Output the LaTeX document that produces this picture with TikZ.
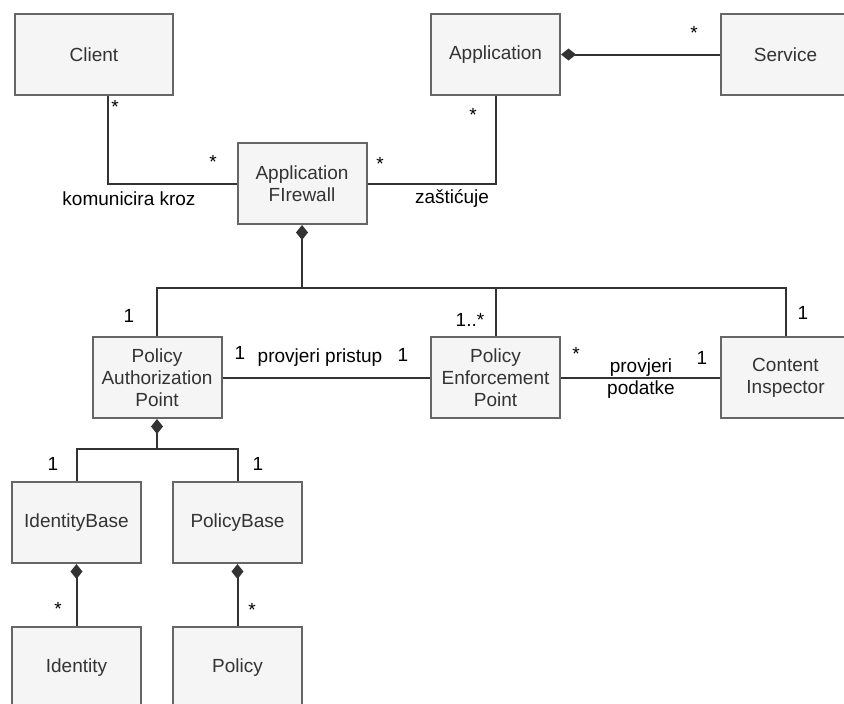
\documentclass[tikz,border=0pt]{standalone}
\usepackage{fontspec}
\setmainfont{Liberation Sans}
\usetikzlibrary{arrows.meta}
\definecolor{boxfill}{HTML}{F5F5F5}
\definecolor{boxline}{HTML}{666666}
\definecolor{boxtext}{HTML}{333333}
\definecolor{edge}{HTML}{333333}

\begin{document}
\begin{tikzpicture}[x=1pt, y=-1pt,
  font=\fontsize{19}{22}\selectfont,
  cls/.style={draw=boxline, fill=boxfill, text=boxtext, line width=2pt,
    minimum width=129pt, minimum height=81pt, align=center, inner sep=2pt},
  assoc/.style={draw=edge, line width=2pt},
  comp/.style={assoc, {Diamond[length=15pt, width=12pt]}-},
  mult/.style={text=black, inner sep=0pt},
  lbl/.style={text=black, inner sep=0pt, align=center}]
  \useasboundingbox (0,0) rectangle (844,704);

  \node[cls, minimum width=158pt] (client) at (94,54.5) {Client};
  \node[cls] (app) at (495.5,54.5) {Application};
  \node[cls] (svc) at (785.5,54.5) {Service};
  \node[cls] (af) at (302,183.5) {Application\\FIrewall};
  \node[cls] (pap) at (157,377.5) {Policy\\Authorization\\Point};
  \node[cls] (pep) at (495.5,377.5) {Policy\\Enforcement\\Point};
  \node[cls] (ci) at (785.5,377.5) {Content\\Inspector};
  \node[cls] (ib) at (76.5,522.5) {IdentityBase};
  \node[cls] (pb) at (237.5,522.5) {PolicyBase};
  \node[cls] (id) at (76.5,667.5) {Identity};
  \node[cls] (pol) at (237.5,667.5) {Policy};

  \coordinate (afj) at (302,288);
  \coordinate (papj) at (157,449);

  \draw[assoc] ([xshift=14pt]client.south) |- (af.west);
  \draw[assoc] (app.south) |- (af.east);
  \draw[comp] (app.east) -- (svc.west);
  \draw[comp] (af.south) -- (afj);
  \draw[assoc] (pap.north) |- (afj) -| (ci.north);
  \draw[assoc] (pep.north) -- (pep.north |- afj);
  \draw[assoc] (pap.east) -- (pep.west);
  \draw[assoc] (pep.east) -- (ci.west);
  \draw[comp] (pap.south) -- (papj);
  \draw[assoc] (ib.north) |- (papj) -| (pb.north);
  \draw[comp] (ib.south) -- (id.north);
  \draw[comp] (pb.south) -- (pol.north);

  \node[mult] (m1) at (115,107) {*};
  \node[mult] (m2) at (213,162) {*};
  \node[mult] (m3) at (380,164) {*};
  \node[mult] (m4) at (473,115) {*};
  \node[mult] (m5) at (694,33) {*};
  \node[mult] (m6) at (129,316) {1};
  \node[mult] (m7) at (470,320) {1..*};
  \node[mult] (m8) at (803,313) {1};
  \node[mult] (m9) at (240,353) {1};
  \node[mult] (m10) at (403,355) {1};
  \node[mult] (m11) at (576,354) {*};
  \node[mult] (m12) at (702,358) {1};
  \node[mult] (m13) at (53,464) {1};
  \node[mult] (m14) at (258,464) {1};
  \node[mult] (m15) at (58,609) {*};
  \node[mult] (m16) at (252,610) {*};

  \node[lbl] (l1) at (129,199) {komunicira kroz};
  \node[lbl] (l2) at (452,198) {zaštićuje};
  \node[lbl] (l3) at (320,358) {provjeri pristup};
  \node[lbl] (l4) at (641,379) {provjeri\\podatke};
\end{tikzpicture}
\end{document}
